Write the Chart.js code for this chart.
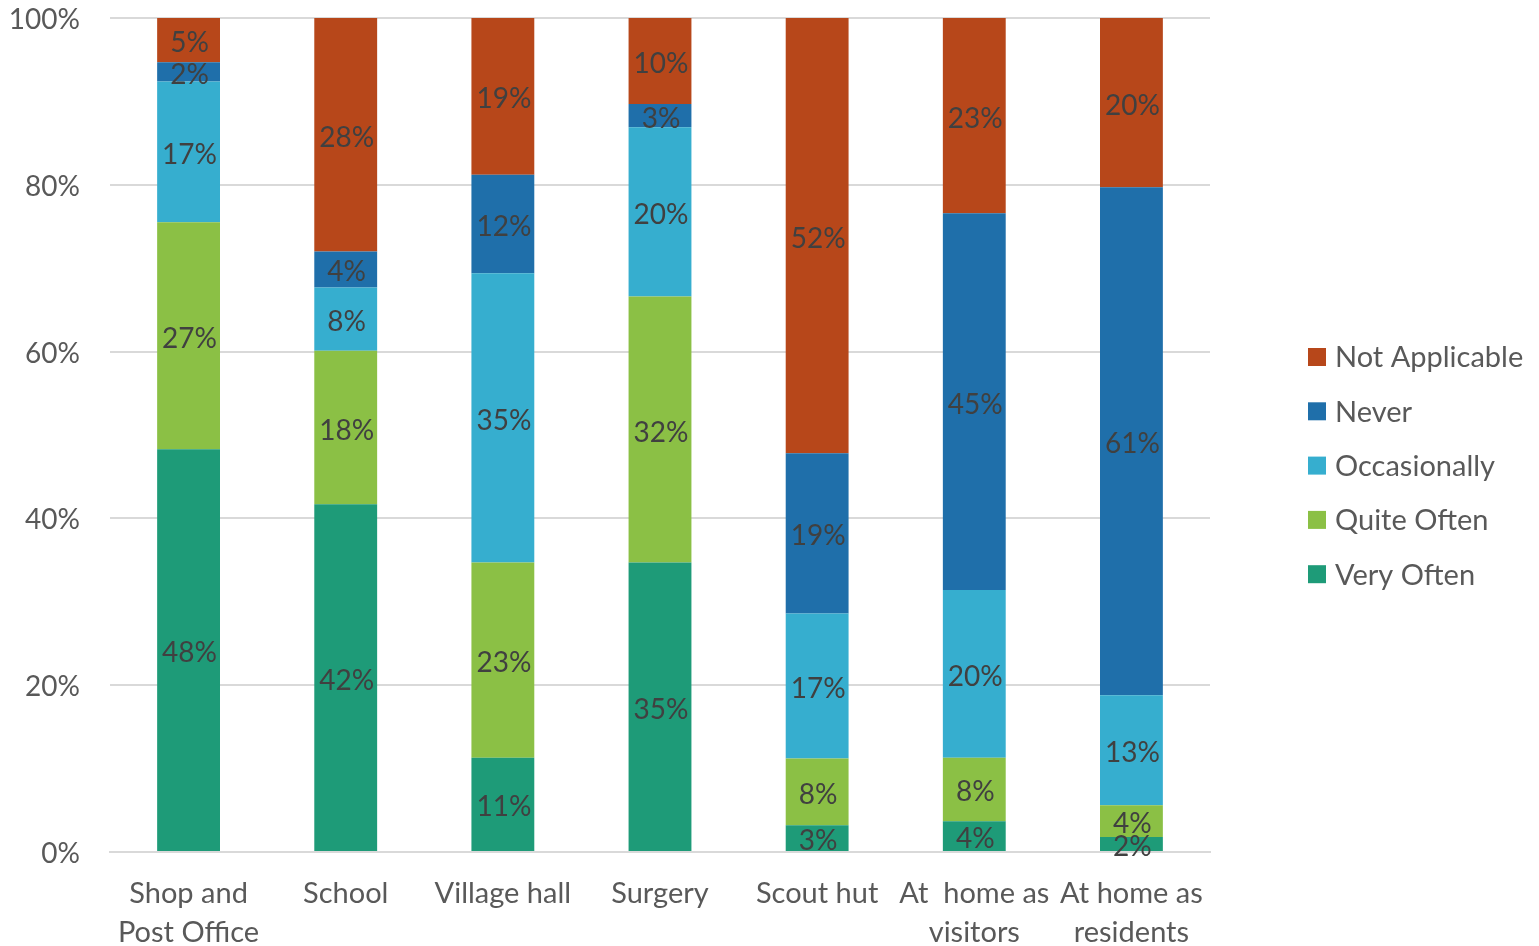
<!DOCTYPE html>
<html>
<head>
<meta charset="utf-8">
<script src="https://cdn.jsdelivr.net/npm/chart.js@4"></script>
<style>
  html, body { margin: 0; padding: 0; background: #fff; }
  #wrap { width: 1539px; height: 946px; }
</style>
</head>
<body>
<div id="wrap"><canvas id="chart"></canvas></div>
<script>
const categories = [
    ['Shop and', 'Post Office'],
    'School',
    'Village hall',
    'Surgery',
    'Scout hut',
    ['At  home as', 'visitors'],
    ['At home as', 'residents'],
];

const veryOften     = [48.3, 41.7, 11.3, 34.7, 3.2, 3.7, 1.8];
const quiteOften    = [27.2, 18.4, 23.4, 31.9, 8.0, 7.6, 3.8];
const occasionally  = [16.9, 7.6, 34.7, 20.3, 17.4, 20.1, 13.2];
const never         = [2.3, 4.3, 11.8, 2.8, 19.2, 45.2, 60.9];
const notApplicable = [5.3, 28.0, 18.8, 10.3, 52.2, 23.4, 20.3];

const yTicks = [0, 20, 40, 60, 80, 100];

const FONT = 'Lato, "Open Sans", sans-serif';

// draws the percentage in the middle of each segment
const segmentLabels = {
    id: 'segmentLabels',
    afterDatasetsDraw(chart) {
        const ctx = chart.ctx;
        ctx.save();
        ctx.font = '28px ' + FONT;
        ctx.fillStyle = '#404040';
        ctx.textAlign = 'center';
        ctx.textBaseline = 'middle';
        chart.data.datasets.forEach((ds, i) => {
            const meta = chart.getDatasetMeta(i);
            meta.data.forEach((bar, j) => {
                const p = bar.getCenterPoint();
                ctx.fillText(Math.round(ds.data[j]) + '%', p.x + 1, p.y + 3);
            });
        });
        ctx.restore();
    }
};

// legend on the right, last series on top
const sideLegend = {
    id: 'sideLegend',
    afterDraw(chart) {
        const ctx = chart.ctx;
        const items = chart.data.datasets.slice().reverse();
        ctx.save();
        ctx.font = '29px ' + FONT;
        ctx.textAlign = 'left';
        ctx.textBaseline = 'middle';
        items.forEach((ds, i) => {
            const y = 357 + i * 54.3;
            ctx.fillStyle = ds.backgroundColor;
            ctx.fillRect(1308, y - 9, 18, 18);
            ctx.fillStyle = '#595959';
            ctx.fillText(ds.label, 1335, y + 1);
        });
        ctx.restore();
    }
};

new Chart(document.getElementById('chart'), {
    type: 'bar',
    data: {
        labels: categories,
        datasets: [
            { label: 'Very Often', data: veryOften, backgroundColor: '#1E9B78' },
            { label: 'Quite Often', data: quiteOften, backgroundColor: '#8BC045' },
            { label: 'Occasionally', data: occasionally, backgroundColor: '#36AECF' },
            { label: 'Never', data: never, backgroundColor: '#1F6FAA' },
            { label: 'Not Applicable', data: notApplicable, backgroundColor: '#B7471A' },
        ],
    },
    options: {
        responsive: true,
        maintainAspectRatio: false,
        animation: false,
        layout: { padding: { top: 18, right: 329, left: 0, bottom: 0 } },
        datasets: {
            bar: { barPercentage: 0.4, categoryPercentage: 1.0, borderWidth: 0 }
        },
        scales: {
            x: {
                stacked: true,
                grid: { display: false, drawTicks: false },
                border: { display: true, color: '#d9d9d9', width: 2 },
                ticks: {
                    color: '#595959',
                    font: { family: FONT, size: 29, lineHeight: 1.345 },
                    padding: 22,
                    maxRotation: 0,
                    autoSkip: false,
                },
                afterFit(axis) {
                    axis.height = 94;
                    axis.paddingLeft = 0;
                    axis.paddingRight = 0;
                },
            },
            y: {
                stacked: true,
                min: 0,
                max: 100,
                afterBuildTicks(axis) {
                    axis.ticks = yTicks.map(v => ({ value: v }));
                },
                grid: { color: '#d9d9d9', lineWidth: 2, drawTicks: false },
                border: { display: false },
                ticks: {
                    color: '#595959',
                    font: { family: FONT, size: 28 },
                    padding: 30,
                    labelOffset: 2,
                    callback: v => v + '%',
                },
                afterFit(axis) {
                    axis.width = 110;
                    axis.paddingTop = 0;
                    axis.paddingBottom = 0;
                },
            },
        },
        plugins: {
            legend: { display: false },
            tooltip: { enabled: false },
        },
    },
    plugins: [segmentLabels, sideLegend],
});
</script>
</body>
</html>
